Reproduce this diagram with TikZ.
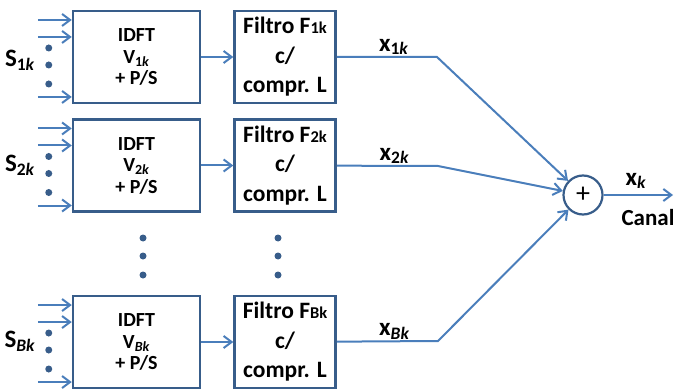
\documentclass[tikz,border=0pt]{standalone}
\usepackage{fontspec}
\setmainfont{Carlito}
\usetikzlibrary{positioning,arrows.meta}
\definecolor{frame}{RGB}{56,93,138}
\definecolor{wire}{RGB}{74,126,187}
\newcommand{\ix}[2]{\textsubscript{#1\textit{#2}}}
\newcommand{\smix}[1]{{\fontsize{16.5}{16.5}\selectfont #1}}
\tikzset{
  idft/.style={draw=frame,line width=2.5pt,fill=white,minimum width=127pt,minimum height=92pt,
    inner sep=0pt,align=center,font=\fontsize{20}{21.5}\selectfont\bfseries},
  filt/.style={draw=frame,line width=2.5pt,fill=white,minimum width=101pt,minimum height=92pt,
    inner sep=0pt,align=center,font=\fontsize{23.5}{29.5}\selectfont\bfseries},
  lbl/.style={font=\fontsize{25}{25}\selectfont\bfseries,inner sep=1pt},
  sumc/.style={circle,draw=frame,line width=2.2pt,fill=white,minimum size=39pt,inner sep=0pt,
    font=\fontsize{28}{28}\selectfont},
  flow/.style={-{Straight Barb[length=8pt,width=12pt]},draw=wire,line width=2pt},
}

\begin{document}
\begin{tikzpicture}[x=1pt,y=-1pt]
  \useasboundingbox (0,0) rectangle (674,390);

  \node[idft] (idft1) at (136.5,57) {IDFT\\V\ix{1}{k}\\+ P/S};
  \node[idft,below=14pt of idft1] (idft2) {IDFT\\V\ix{2}{k}\\+ P/S};
  \node[idft,below=82pt of idft2] (idftB) {IDFT\\V\ix{}{Bk}\\+ P/S};

  \node[filt,right=32pt of idft1] (filt1) {Filtro F\smix{1k}\\c/\\compr. L};
  \node[filt,right=32pt of idft2] (filt2) {Filtro F\smix{2k}\\c/\\compr. L};
  \node[filt,right=32pt of idftB] (filtB) {Filtro F\smix{Bk}\\c/\\compr. L};

  \node[lbl] (s1) at (20,60) {S\ix{1}{k}};
  \node[lbl] (s2) at (20,165) {S\ix{2}{k}};
  \node[lbl] (sB) at (20,341) {S\ix{}{Bk}};

  \node[sumc] (sum) at (583,195) {+};
  \coordinate (out) at (673,195);
  \node[lbl] (xk) at (636,181) {x\ix{}{k}};
  \node[lbl,font=\fontsize{23}{23}\selectfont\bfseries] (canal) at (648,218) {Canal};

  \coordinate (bend1) at (437,57);
  \coordinate (bend2) at (438,166);
  \coordinate (bendB) at (438,341);

  \foreach \r in {1,2,B}{
    \foreach \dy [count=\i] in {37,20,-40}{
      \coordinate (in\r\i) at ([xshift=-34pt,yshift=\dy pt]idft\r.west);
      \draw[flow] (in\r\i) -- (in\r\i -| idft\r.west);
    }
    \foreach \dy in {9,-8,-27}
      \fill[frame] ([xshift=-23pt,yshift=\dy pt]idft\r.west) circle (3.5pt);
    \draw[flow] (idft\r) -- (filt\r);
  }

  \foreach \y in {238,256,275}{
    \fill[frame] (143,\y) circle (3.5pt);
    \fill[frame] (278,\y) circle (3.5pt);
  }

  \draw[flow] (filt1) -- node[lbl,above,pos=.57] {x\ix{1}{k}} (bend1) -- (sum);
  \draw[flow] (filt2) -- node[lbl,above,pos=.57] {x\ix{2}{k}} (bend2) -- (sum);
  \draw[flow] (filtB) -- node[lbl,above,pos=.57] {x\ix{}{Bk}} (bendB) -- (sum);
  \draw[flow] (sum) -- (out);
\end{tikzpicture}
\end{document}
